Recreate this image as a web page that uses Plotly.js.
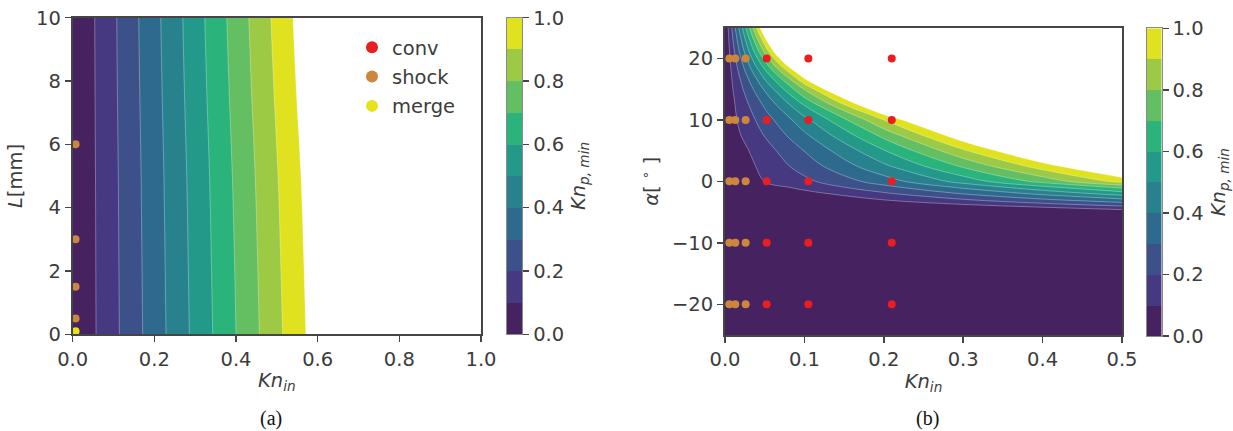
<!DOCTYPE html>
<html><head><meta charset="utf-8">
<script src="https://cdn.plot.ly/plotly-3.0.1.min.js"></script>
<style>html,body{margin:0;padding:0;background:#fff}#chart{width:1233px;height:431px}</style>
</head><body><div id="chart"></div>
<script>
// ---------------- data ----------------
const levels = [0.0, 0.1, 0.2, 0.3, 0.4, 0.5, 0.6, 0.7, 0.8, 0.9, 1.0];
const bandColors = ['#462360', '#463881', '#3c5189', '#2e6a8d', '#27828e',
                    '#239a89', '#2ab37b', '#64be62', '#9dca45', '#e0e220'];
const colorbarTicks = [0.0, 0.2, 0.4, 0.6, 0.8, 1.0];

// panel (a): Kn_p,min over Kn_in (columns) and L [mm] (rows)
const knA = [0, 0.2, 0.4, 0.6, 1.0];
const lA = [0, 2.5, 5, 7.5, 10];
const knpA = [
  [0, 0.350, 0.700, 1.051, 1.751],
  [0, 0.354, 0.707, 1.061, 1.768],
  [0, 0.358, 0.716, 1.073, 1.789],
  [0, 0.365, 0.730, 1.094, 1.824],
  [0, 0.371, 0.742, 1.112, 1.854]
];
const shockA_kn = [0.007, 0.007, 0.007, 0.007];
const shockA_L = [6, 3, 1.5, 0.5];
const mergeA_kn = [0.007];
const mergeA_L = [0.1];
const ticksAx = [0, 0.2, 0.4, 0.6, 0.8, 1.0];
const ticksAy = [0, 2, 4, 6, 8, 10];

// panel (b): Kn_p,min over Kn_in (columns) and alpha [deg] (rows)
const knB = [0, 0.05, 0.1, 0.2, 0.3, 0.4, 0.5];
const alphaB = [-25, -6, -4.6, -4.2, -3.75, -3, -2, -1, 0, 2.5, 5, 7.5, 10, 12.5, 15, 17.5, 18.75, 20, 21.25, 22.5, 23.75, 25];
const knpB = [
  [-1, -1, -1, -1, -1, -1, -1],
  [-0.35, -0.33, -0.3, -0.27, -0.22, -0.18, -0.14],
  [-0.24, -0.2, -0.17, -0.1, -0.04, 0.03, 0.1],
  [-0.176, -0.14, -0.107, -0.038, 0.032, 0.101, 0.169],
  [-0.119, -0.083, -0.046, 0.027, 0.101, 0.173, 0.246],
  [-0.083, -0.037, 0.009, 0.101, 0.191, 0.283, 0.374],
  [-0.057, 0.004, 0.064, 0.184, 0.305, 0.425, 0.546],
  [-0.02, 0.05, 0.128, 0.265, 0.415, 0.565, 0.717],
  [0.009, 0.102, 0.175, 0.35, 0.54, 0.735, 0.935],
  [0.009, 0.127, 0.245, 0.481, 0.717, 0.953, 1.189],
  [0.013, 0.158, 0.303, 0.594, 0.884, 1.174, 1.464],
  [0.03, 0.205, 0.38, 0.73, 1.081, 1.431, 1.781],
  [0.035, 0.251, 0.468, 0.90, 1.333, 1.766, 2.2],
  [0.027, 0.318, 0.61, 1.192, 1.775, 2.36, 2.94],
  [0.022, 0.413, 0.805, 1.588, 2.37, 3.15, 3.94],
  [0.014, 0.55, 1.085, 2.16, 3.23, 4.30, 5.37],
  [0.011, 0.638, 1.266, 2.52, 3.77, 5.03, 6.28],
  [0.009, 0.73, 1.451, 2.89, 4.33, 5.78, 7.22],
  [0.008, 0.83, 1.653, 3.30, 4.94, 6.59, 8.23],
  [0.009, 0.922, 1.835, 3.66, 5.49, 7.31, 9.14],
  [0.008, 1.026, 2.044, 4.08, 6.12, 8.15, 10.19],
  [0.01, 1.135, 2.26, 4.51, 6.76, 9.01, 11.26]
];
const shockB_kn = [0.0055, 0.013, 0.026];
const convB_kn = [0.0525, 0.105, 0.21];
const caseAlpha = [20, 10, 0, -10, -20];
const ticksBx = [0, 0.1, 0.2, 0.3, 0.4, 0.5];
const ticksBy = [-20, -10, 0, 10, 20];

// ---------------- styles ----------------
const TXT = '#3c3c3c', AX = '#454545';
const FONT = 'DejaVu Sans, sans-serif';
const FS = 19.5;
const C_CONV = '#e91e23', C_SHOCK = '#cd873c', C_MERGE = '#e6e21c';
const W = 1233, H = 431;
const px = v => v / W, py = v => 1 - v / H;

const contourScale = bandColors.map((c, i) => [i / 10, c]).concat([[1, '#ffffff']]);
const stepScale = [];
bandColors.forEach((c, i) => { stepScale.push([i / 10, c]); stepScale.push([(i + 1) / 10, c]); });

const contourCommon = {
  type: 'contour', autocontour: false,
  contours: {start: levels[1], end: levels[levels.length - 1], size: levels[1] - levels[0], coloring: 'fill', showlines: true},
  line: {color: 'rgba(255,255,255,0.45)', width: 0.7, smoothing: 1},
  colorscale: contourScale, showscale: false, hoverinfo: 'skip', showlegend: false
};

const stripY = levels;
const stripZ = levels.slice(0, -1).map((v, i) => [(v + levels[i + 1]) / 2]);

function caseTrace(kns, name, color, show, group) {
  const xs = [], ys = [];
  kns.forEach(k => caseAlpha.forEach(a => { xs.push(k); ys.push(a); }));
  return {type: 'scatter', mode: 'markers', x: xs, y: ys, name: name, xaxis: 'x2', yaxis: 'y2',
          marker: {color: color, size: 8}, showlegend: show, legendgroup: group, hoverinfo: 'skip'};
}

const data = [
  Object.assign({}, contourCommon, {x: knA, y: lA, z: knpA, xaxis: 'x', yaxis: 'y'}),
  Object.assign({}, contourCommon, {x: knB, y: alphaB, z: knpB, xaxis: 'x2', yaxis: 'y2'}),
  caseTrace(convB_kn, 'conv', C_CONV, true, 'g1'),
  {type: 'scatter', mode: 'markers', x: shockA_kn, y: shockA_L, name: 'shock', xaxis: 'x', yaxis: 'y',
   marker: {color: C_SHOCK, size: 8}, legendgroup: 'g2', hoverinfo: 'skip'},
  {type: 'scatter', mode: 'markers', x: mergeA_kn, y: mergeA_L, name: 'merge', xaxis: 'x', yaxis: 'y',
   marker: {color: C_MERGE, size: 8}, legendgroup: 'g3', hoverinfo: 'skip'},
  caseTrace(shockB_kn, 'shock', C_SHOCK, false, 'g2'),
  {type: 'heatmap', x: [0, 1], y: stripY, z: stripZ, xaxis: 'x3', yaxis: 'y3', zmin: 0, zmax: 1,
   colorscale: stepScale, showscale: false, hoverinfo: 'skip', showlegend: false},
  {type: 'heatmap', x: [0, 1], y: stripY, z: stripZ, xaxis: 'x4', yaxis: 'y4', zmin: 0, zmax: 1,
   colorscale: stepScale, showscale: false, hoverinfo: 'skip', showlegend: false}
];

const tickfont = {family: FONT, size: FS, color: TXT};
function mainAxis(extra) {
  return Object.assign({
    showline: true, mirror: true, linecolor: AX, linewidth: 2,
    ticks: 'outside', ticklen: 6, tickwidth: 1.5, tickcolor: AX,
    showgrid: false, zeroline: false, tickfont: tickfont, fixedrange: true
  }, extra);
}
const kntitle = {text: '<i>Kn</i><sub><i>in</i></sub>', font: {family: FONT, size: FS, color: TXT}, standoff: 4};
const cbtitle = {text: '<i>Kn</i><sub><i>p, min</i></sub>', font: {family: FONT, size: FS, color: TXT}, standoff: 8};
function cbAxes(xd, yd, xa, ya) {
  return [
    {domain: xd, range: [0, 1], anchor: ya, showticklabels: false, ticks: '',
     showline: true, mirror: true, linecolor: '#8a8a8a', linewidth: 1, showgrid: false, zeroline: false, fixedrange: true},
    {domain: yd, range: [0, 1], anchor: xa, side: 'right', tickvals: colorbarTicks, tickformat: '.1f',
     ticks: 'outside', ticklen: 6, tickwidth: 1.5, tickcolor: AX, tickfont: tickfont,
     showline: true, mirror: true, linecolor: '#8a8a8a', linewidth: 1, showgrid: false, zeroline: false, fixedrange: true, title: cbtitle}
  ];
}
const cbA = cbAxes([px(506.7), px(522.3)], [py(334.3), py(17.7)], 'x3', 'y3');
const cbB = cbAxes([px(1146.7), px(1161.7)], [py(336), py(28.3)], 'x4', 'y4');

const layout = {
  width: W, height: H, margin: {l: 0, r: 0, t: 0, b: 0},
  paper_bgcolor: '#ffffff', plot_bgcolor: '#ffffff',
  showlegend: true,
  legend: {x: px(352), y: py(28), xanchor: 'left', yanchor: 'top', bgcolor: 'rgba(0,0,0,0)',
           font: {family: FONT, size: FS, color: TXT}, traceorder: 'grouped', tracegroupgap: 1, itemsizing: 'constant'},
  xaxis: mainAxis({domain: [px(72.7), px(481)], range: [0, 1], tickvals: ticksAx, tickformat: '.1f', anchor: 'y', title: kntitle}),
  yaxis: mainAxis({domain: [py(334.3), py(17.7)], range: [0, 10], tickvals: ticksAy, anchor: 'x',
                   title: {text: '<i>L</i>[mm]', font: {family: FONT, size: FS, color: TXT}, standoff: 8}}),
  xaxis2: mainAxis({domain: [px(725), px(1122)], range: [0, 0.5], tickvals: ticksBx, tickformat: '.1f', anchor: 'y2', title: kntitle}),
  yaxis2: mainAxis({domain: [py(335), py(27.7)], range: [-25, 25], tickvals: ticksBy, anchor: 'x2',
                    title: {text: '<i>α</i>[ <sup>∘</sup> ]', font: {family: FONT, size: FS, color: TXT}, standoff: 8}}),
  xaxis3: cbA[0], yaxis3: cbA[1], xaxis4: cbB[0], yaxis4: cbB[1],
  annotations: [
    {text: '(a)', x: px(270.7), y: py(418), xref: 'paper', yref: 'paper', showarrow: false, xanchor: 'center', yanchor: 'middle',
     font: {family: 'Liberation Serif, serif', size: 20, color: '#111'}},
    {text: '(b)', x: px(927), y: py(418), xref: 'paper', yref: 'paper', showarrow: false, xanchor: 'center', yanchor: 'middle',
     font: {family: 'Liberation Serif, serif', size: 20, color: '#111'}}
  ]
};

Plotly.newPlot('chart', data, layout, {displayModeBar: false, staticPlot: true});
</script>
</body></html>
